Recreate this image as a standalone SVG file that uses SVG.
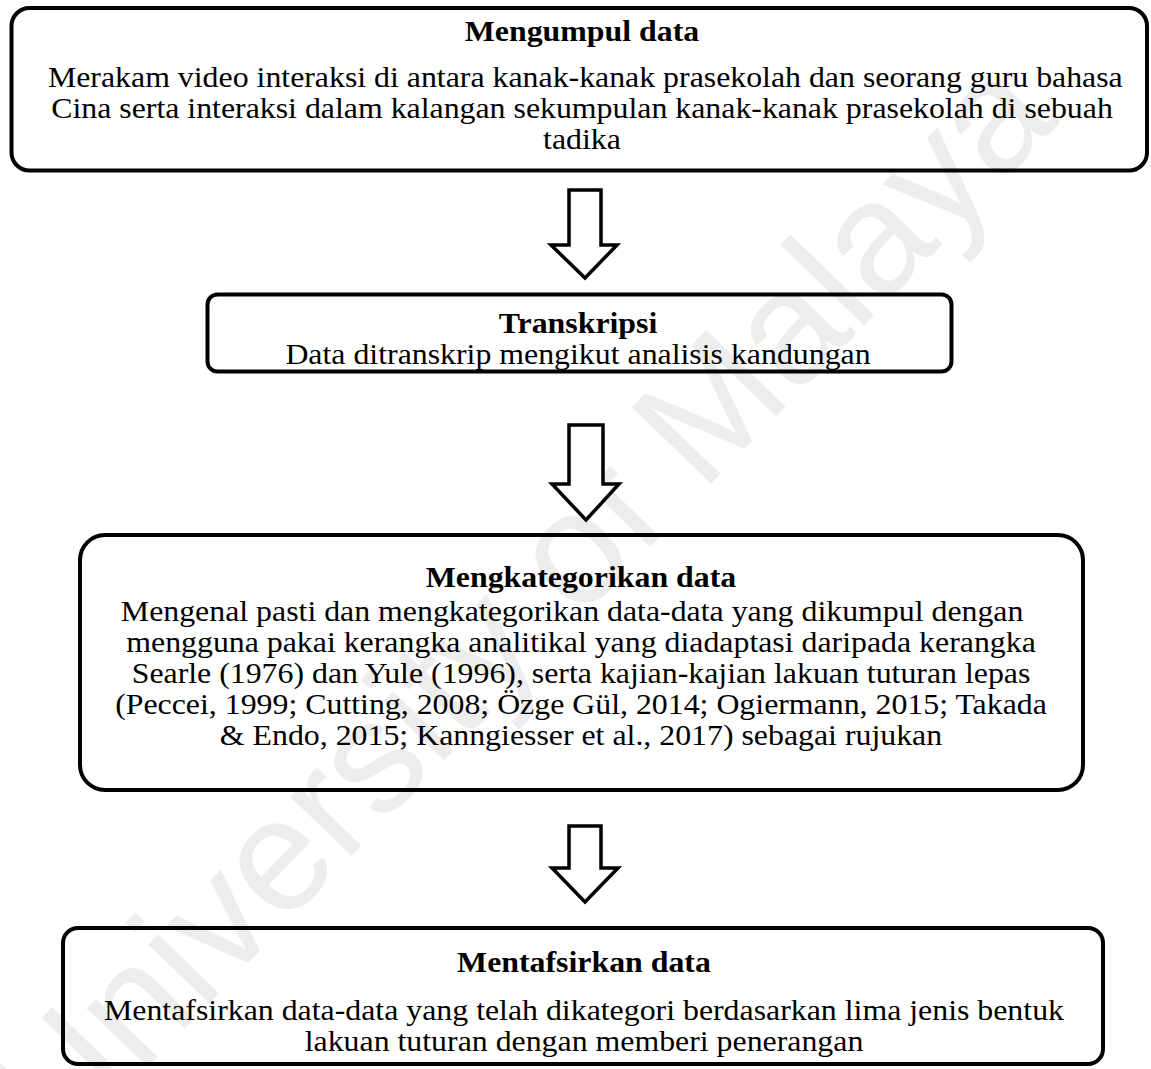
<svg xmlns="http://www.w3.org/2000/svg" width="1151" height="1069" viewBox="0 0 1151 1069">
<style>
.box{fill:none;stroke:#000;stroke-width:4}
.arrow{fill:#fff;stroke:#000;stroke-width:3.5;stroke-linejoin:miter}
.t{font-family:"Liberation Serif","Times New Roman",serif;font-size:28.7px;fill:#000;text-anchor:middle}
.b{font-weight:bold}
.wm{font-family:"Liberation Sans",Arial,sans-serif;font-size:160px;fill:#ededed;text-anchor:middle}
</style>
<rect width="1151" height="1069" fill="#fff"/>
<text class="wm" x="0" y="0" transform="translate(560,640) rotate(-46)">University of Malaya</text>
<g id="connectors">
<path class="arrow" d="M569,190 H601 V245 H617 L585,278 L551,245 H569 Z"/>
<path class="arrow" d="M569,425 H603 V484 H619 L586,520 L552,484 H569 Z"/>
<path class="arrow" d="M569,826 H601 V868 H618 L585,902 L552,868 H569 Z"/>
</g>
<g id="node1">
<rect class="box" x="11.5" y="8" width="1135.5" height="162.5" rx="18"/>
<g transform="translate(582,0) scale(1.11,1)">
<text class="t b" x="0" y="41.5">Mengumpul data</text>
<text class="t" x="3" y="87">Merakam video interaksi di antara kanak-kanak prasekolah dan seorang guru bahasa</text>
<text class="t" x="0" y="118">Cina serta interaksi dalam kalangan sekumpulan kanak-kanak prasekolah di sebuah</text>
<text class="t" x="0" y="149">tadika</text>
</g>
</g>
<g id="node2">
<rect class="box" x="207.5" y="294.5" width="744" height="77" rx="10"/>
<g transform="translate(578,0) scale(1.11,1)">
<text class="t b" x="0" y="333">Transkripsi</text>
<text class="t" x="0" y="364">Data ditranskrip mengikut analisis kandungan</text>
</g>
</g>
<g id="node3">
<rect class="box" x="80" y="535" width="1003" height="255" rx="25"/>
<g transform="translate(581,0) scale(1.11,1)">
<text class="t b" x="0" y="587">Mengkategorikan data</text>
<text class="t" x="-8" y="621">Mengenal pasti dan mengkategorikan data-data yang dikumpul dengan</text>
<text class="t" x="0" y="652">mengguna pakai kerangka analitikal yang diadaptasi daripada kerangka</text>
<text class="t" x="0" y="683">Searle (1976) dan Yule (1996), serta kajian-kajian lakuan tuturan lepas</text>
<text class="t" x="0" y="714">(Peccei, 1999; Cutting, 2008; Özge Gül, 2014; Ogiermann, 2015; Takada</text>
<text class="t" x="0" y="745">&amp; Endo, 2015; Kanngiesser et al., 2017) sebagai rujukan</text>
</g>
</g>
<g id="node4">
<rect class="box" x="63" y="928" width="1040" height="136" rx="15"/>
<g transform="translate(584,0) scale(1.11,1)">
<text class="t b" x="0" y="972">Mentafsirkan data</text>
<text class="t" x="0" y="1020">Mentafsirkan data-data yang telah dikategori berdasarkan lima jenis bentuk</text>
<text class="t" x="0" y="1051">lakuan tuturan dengan memberi penerangan</text>
</g>
</g>
</svg>
